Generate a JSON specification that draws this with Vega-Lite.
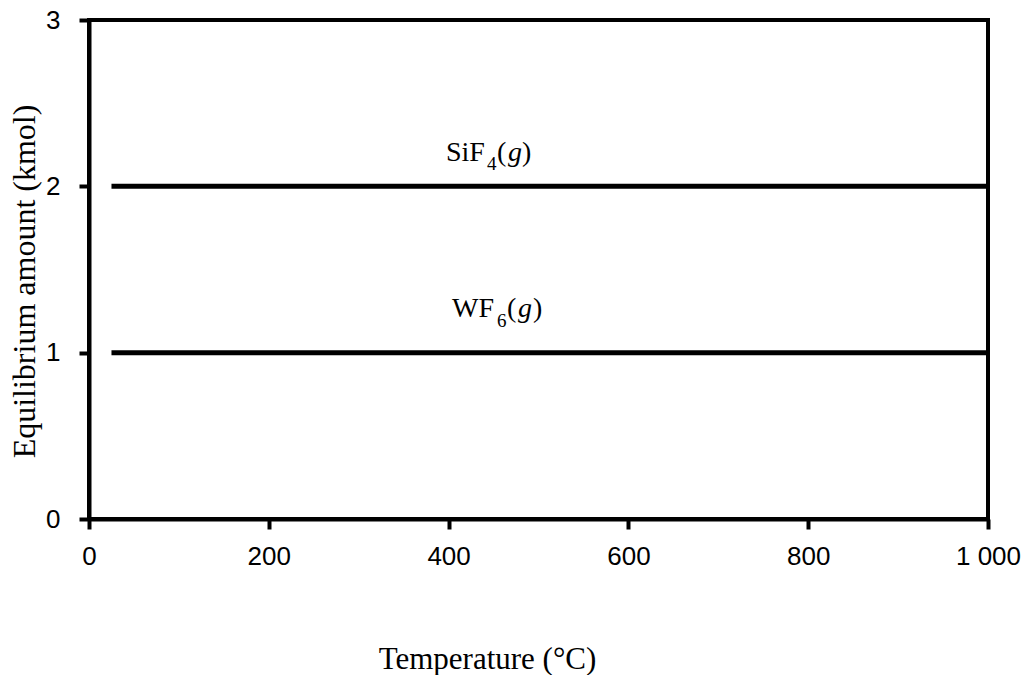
{
  "$schema": "https://vega.github.io/schema/vega-lite/v6.json",
  "width": 899,
  "height": 499,
  "autosize": {"type": "none"},
  "padding": {"left": 89, "top": 20, "right": 39, "bottom": 156},
  "background": "white",
  "config": {"view": {"stroke": "black", "strokeWidth": 4}},
  "layer": [
    {
      "data": {"values": [
        {"T": 25, "amount": 2, "species": "SiF4(g)"},
        {"T": 1000, "amount": 2, "species": "SiF4(g)"},
        {"T": 25, "amount": 1, "species": "WF6(g)"},
        {"T": 1000, "amount": 1, "species": "WF6(g)"}
      ]},
      "mark": {"type": "line", "color": "black", "strokeWidth": 5, "clip": true},
      "encoding": {
        "x": {"field": "T", "type": "quantitative",
          "scale": {"domain": [0, 1000], "nice": false, "zero": false},
          "axis": {"title": "Temperature (°C)", "values": [0, 200, 400, 600, 800, 1000],
            "labelExpr": "replace(format(datum.value, ','), ',', ' ')",
            "grid": false, "domainColor": "black", "domainWidth": 4,
            "tickColor": "black", "tickWidth": 4, "tickSize": 10,
            "labelFont": "Liberation Sans", "labelFontSize": 26, "labelColor": "black",
            "labelPadding": 14, "labelFlush": false, "labelOverlap": false,
            "titleFont": "Liberation Serif", "titleFontSize": 31, "titleFontWeight": "normal",
            "titleColor": "black", "titleX": 398, "titleY": 149, "titleBaseline": "alphabetic",
            "titleAlign": "center"}},
        "y": {"field": "amount", "type": "quantitative",
          "scale": {"domain": [0, 3], "nice": false},
          "axis": {"title": "Equilibrium amount (kmol)", "values": [0, 1, 2, 3], "format": "d",
            "grid": false, "domainColor": "black", "domainWidth": 4,
            "tickColor": "black", "tickWidth": 4, "tickSize": 10,
            "labelFont": "Liberation Sans", "labelFontSize": 26, "labelColor": "black",
            "labelPadding": 19, "labelFlush": false, "labelOverlap": false,
            "titleFont": "Liberation Serif", "titleFontSize": 32, "titleFontWeight": "normal",
            "titleColor": "black", "titleX": -55, "titleY": 261, "titleBaseline": "alphabetic",
            "titleAlign": "center", "titleAngle": -90}},
        "detail": {"field": "species"}
      }
    },
    {
      "data": {"values": [
        {"T": 397.1, "amount": 2.152, "text": "SiF"},
        {"T": 453.8, "amount": 2.152, "text": "("},
        {"T": 481.6, "amount": 2.152, "text": ")"},
        {"T": 403.8, "amount": 1.214, "text": "WF"},
        {"T": 465.0, "amount": 1.214, "text": "("},
        {"T": 493.9, "amount": 1.214, "text": ")"}
      ]},
      "mark": {"type": "text", "font": "Liberation Serif", "fontSize": 28, "color": "black", "align": "left", "baseline": "alphabetic"},
      "encoding": {
        "x": {"field": "T", "type": "quantitative"},
        "y": {"field": "amount", "type": "quantitative"},
        "text": {"field": "text"}
      }
    },
    {
      "data": {"values": [
        {"T": 442.7, "amount": 2.098, "text": "4"},
        {"T": 453.8, "amount": 1.154, "text": "6"}
      ]},
      "mark": {"type": "text", "font": "Liberation Serif", "fontSize": 19, "color": "black", "align": "left", "baseline": "alphabetic"},
      "encoding": {
        "x": {"field": "T", "type": "quantitative"},
        "y": {"field": "amount", "type": "quantitative"},
        "text": {"field": "text"}
      }
    },
    {
      "data": {"values": [
        {"T": 466.1, "amount": 2.152, "text": "g"},
        {"T": 477.2, "amount": 1.214, "text": "g"}
      ]},
      "mark": {"type": "text", "font": "Liberation Serif", "fontSize": 28, "fontStyle": "italic", "color": "black", "align": "left", "baseline": "alphabetic"},
      "encoding": {
        "x": {"field": "T", "type": "quantitative"},
        "y": {"field": "amount", "type": "quantitative"},
        "text": {"field": "text"}
      }
    }
  ]
}
